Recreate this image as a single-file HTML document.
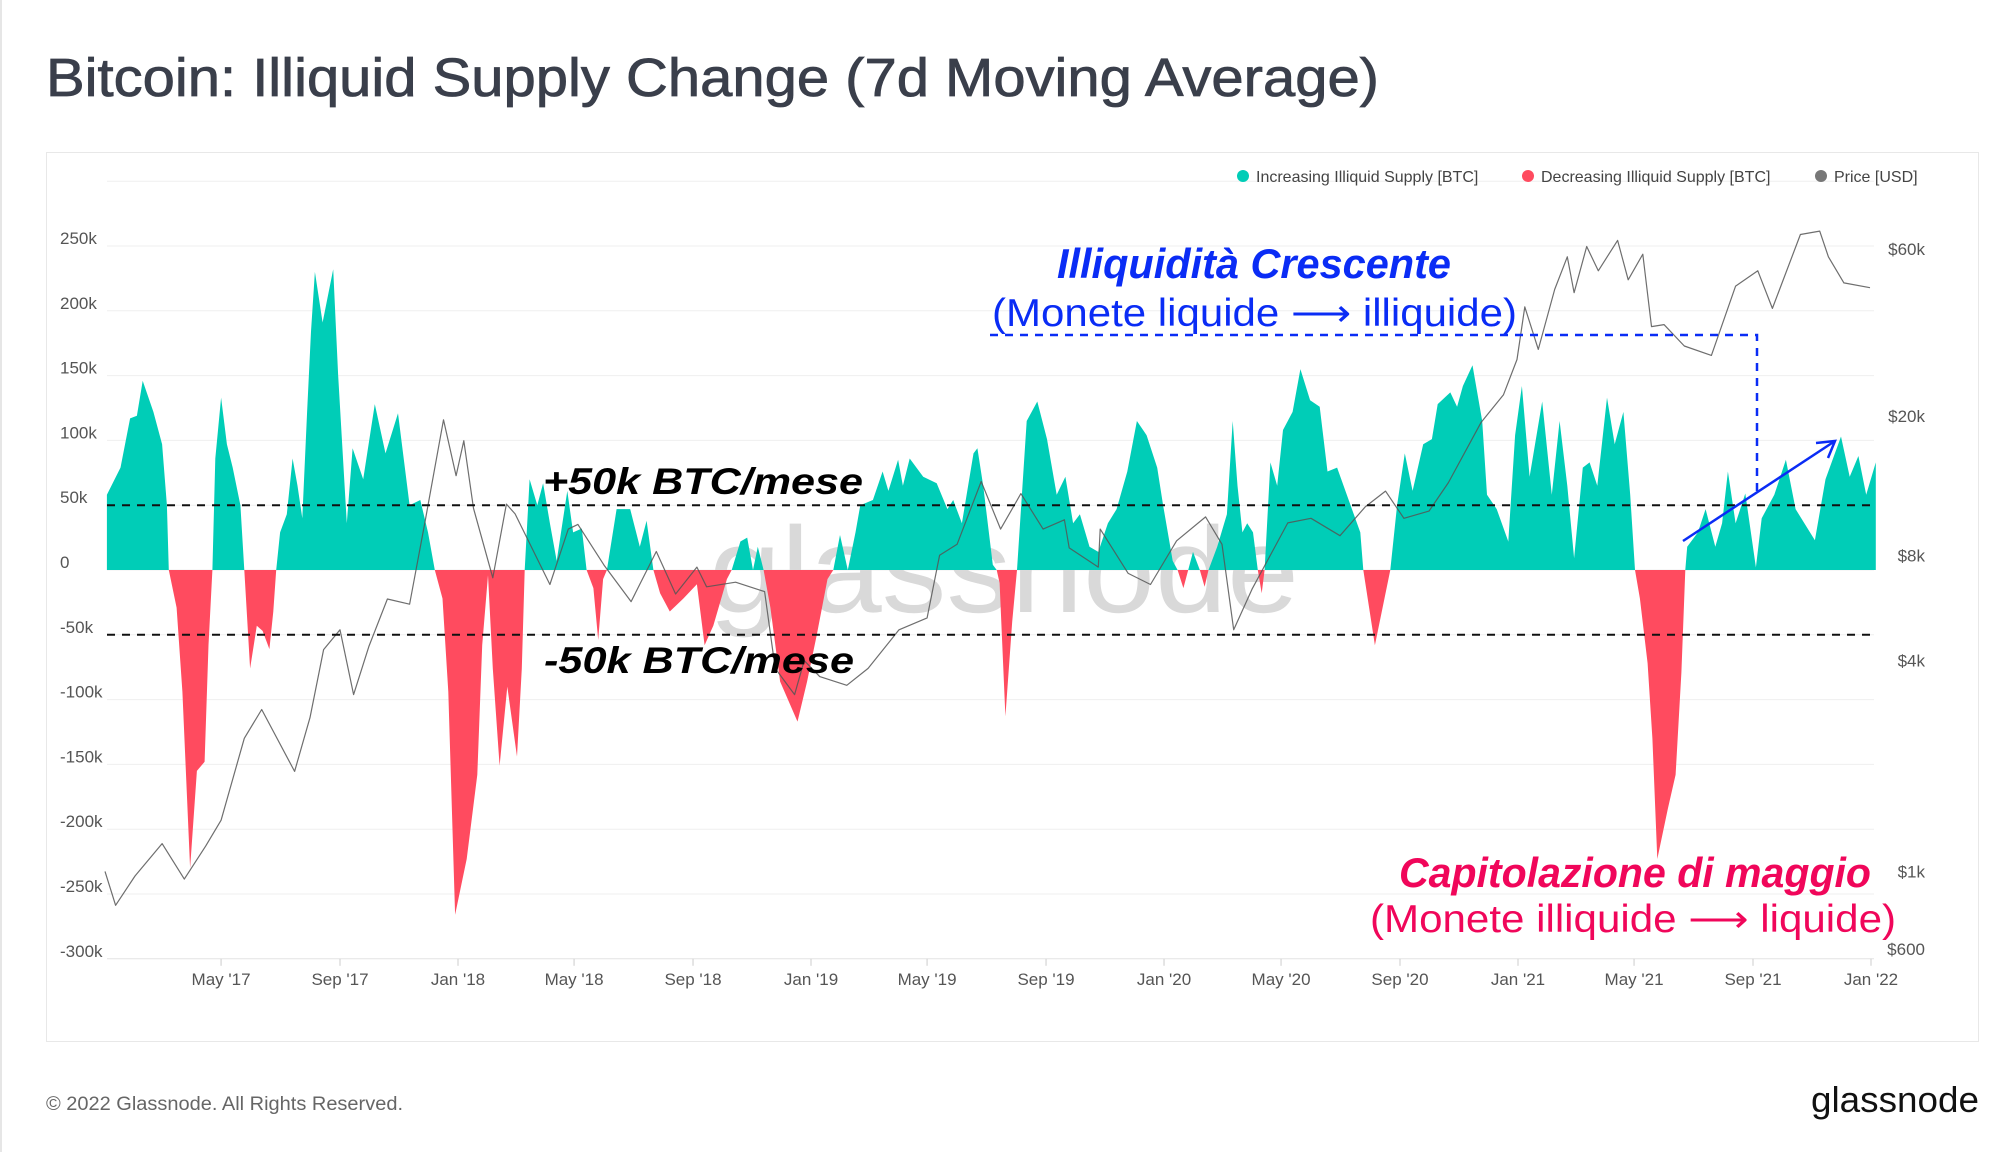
<!DOCTYPE html>
<html><head><meta charset="utf-8"><style>
html,body{margin:0;padding:0;background:#fff;}
svg{display:block;font-family:"Liberation Sans",sans-serif;}
</style></head><body>
<svg id="chart" width="2000" height="1152" viewBox="0 0 2000 1152" xmlns="http://www.w3.org/2000/svg">
<line x1="1" y1="0" x2="1" y2="1152" stroke="#e6e6e6" stroke-width="2"/>
<text x="46" y="96" font-size="54" fill="#3a3f4b" stroke="#3a3f4b" stroke-width="0.8" textLength="1333" lengthAdjust="spacingAndGlyphs">Bitcoin: Illiquid Supply Change (7d Moving Average)</text>
<rect x="46.5" y="152.5" width="1932" height="889" fill="none" stroke="#e8e8e8"/>
<g id="grid"></g>
<text x="709" y="612" font-size="122" fill="#d9d9d9" textLength="590" lengthAdjust="spacingAndGlyphs">glassnode</text>
<g id="areas"></g>
<g id="price"></g>
<g id="axes"></g>
<g id="legend">
 <circle cx="1243" cy="176" r="6" fill="#00cdb7"/>
 <text x="1256" y="182" font-size="16" fill="#444">Increasing Illiquid Supply [BTC]</text>
 <circle cx="1528" cy="176" r="6" fill="#ff4b5f"/>
 <text x="1541" y="182" font-size="16" fill="#444">Decreasing Illiquid Supply [BTC]</text>
 <circle cx="1821" cy="176" r="6" fill="#777"/>
 <text x="1834" y="182" font-size="16" fill="#444">Price [USD]</text>
</g>
<g id="annotations">
 <text x="543" y="494" font-size="37" font-weight="bold" font-style="italic" fill="#000" textLength="320" lengthAdjust="spacingAndGlyphs">+50k BTC/mese</text>
 <text x="544" y="673" font-size="37" font-weight="bold" font-style="italic" fill="#000" textLength="310" lengthAdjust="spacingAndGlyphs">-50k BTC/mese</text>
 <text x="1057" y="278" font-size="42" font-weight="bold" font-style="italic" fill="#0a2cf5" textLength="394" lengthAdjust="spacingAndGlyphs">Illiquidità Crescente</text>
 <text x="992" y="326" font-size="39" fill="#0a2cf5" textLength="525" lengthAdjust="spacingAndGlyphs">(Monete liquide ⟶ illiquide)</text>
 <polyline points="990,335 1757,335 1757,494" fill="none" stroke="#0a2cf5" stroke-width="2.5" stroke-dasharray="8,7"/>
 <line x1="1683" y1="541" x2="1835" y2="441" stroke="#0a2cf5" stroke-width="2.5"/>
 <polyline points="1816,443 1835,441 1828,458" fill="none" stroke="#0a2cf5" stroke-width="2.5"/>
 <text x="1399" y="887" font-size="42" font-weight="bold" font-style="italic" fill="#f0065a" textLength="472" lengthAdjust="spacingAndGlyphs">Capitolazione di maggio</text>
 <text x="1370" y="932" font-size="39" fill="#f0065a" textLength="526" lengthAdjust="spacingAndGlyphs">(Monete illiquide ⟶ liquide)</text>
</g>
<text x="46" y="1110" font-size="19" fill="#666" textLength="357" lengthAdjust="spacingAndGlyphs">© 2022 Glassnode. All Rights Reserved.</text>
<text x="1811" y="1112" font-size="36" fill="#111" textLength="168" lengthAdjust="spacingAndGlyphs">glassnode</text>
</svg>
<script>
const supplyDays = [2,16,26,33,39,50,59,64,66,74,80,88,95,103,107,111,114,120,126,132,140,144,150,157,163,170,174,177,181,188,194,199,204,209,213,217,225,236,241,250,256,267,279,290,303,315,326,334,341,349,355,362,374,385,390,396,401,408,416,426,431,434,439,447,453,460,467,478,484,493,498,505,510,515,519,529,543,553,560,567,574,584,598,612,620,629,643,648,657,664,670,675,681,688,698,716,726,736,747,753,760,768,776,781,794,804,810,820,825,832,846,860,871,877,886,898,902,908,918,922,925,931,938,943,953,964,974,984,993,1001,1008,1018,1027,1037,1046,1057,1067,1077,1088,1094,1104,1109,1115,1120,1125,1132,1137,1141,1150,1160,1166,1171,1176,1181,1187,1192,1196,1199,1205,1212,1218,1228,1236,1246,1256,1264,1274,1284,1298,1301,1313,1329,1336,1344,1352,1363,1372,1378,1391,1398,1404,1414,1424,1429,1439,1451,1458,1465,1473,1486,1496,1504,1512,1519,1528,1535,1543,1553,1561,1570,1577,1582,1587,1595,1600,1605,1616,1624,1630,1634,1636,1647,1655,1665,1672,1678,1686,1696,1707,1713,1726,1738,1748,1768,1779,1795,1804,1813,1821,1831];
const supplyValues = [58,79,117,119,146,122,97,50,0,-29,-94,-230,-155,-148,-58,0,86,133,97,79,50,0,-76,-43,-47,-61,-32,0,29,43,86,65,40,122,184,230,191,232,151,36,94,70,128,90,121,50,54,29,0,-22,-94,-266,-223,-158,-58,-4,-76,-151,-90,-144,-76,0,70,50,67,36,7,61,29,32,0,-14,-54,-7,0,47,47,18,38,0,-18,-32,-22,-11,-58,-43,-7,0,22,25,0,18,0,-29,-86,-117,-86,-50,-7,0,27,0,29,50,54,76,61,85,65,86,72,67,47,54,36,90,94,65,4,0,-10,-113,-40,0,115,130,101,58,72,36,43,18,14,36,47,76,115,104,79,50,7,0,-14,0,14,0,-13,0,18,43,115,65,29,36,29,0,-18,0,83,65,108,122,155,131,126,76,79,58,29,0,-58,0,50,90,61,97,101,128,137,126,142,158,115,58,47,22,104,142,72,130,58,115,65,9,79,83,65,133,97,122,58,0,-22,-72,-130,-223,-184,-158,-79,0,18,29,47,18,36,76,36,59,2,40,58,85,47,23,70,103,72,88,58,83];
const priceDates = ["2017-01-01","2017-01-12","2017-02-01","2017-03-01","2017-03-24","2017-04-15","2017-05-01","2017-05-25","2017-06-12","2017-07-16","2017-08-01","2017-08-15","2017-09-01","2017-09-15","2017-10-01","2017-10-20","2017-11-12","2017-11-28","2017-12-17","2017-12-30","2018-01-07","2018-01-17","2018-02-06","2018-02-20","2018-03-01","2018-04-06","2018-04-25","2018-05-05","2018-06-01","2018-06-29","2018-07-25","2018-08-14","2018-09-05","2018-09-15","2018-10-15","2018-11-14","2018-11-25","2018-12-15","2018-12-25","2019-01-10","2019-02-07","2019-03-01","2019-04-02","2019-05-01","2019-05-14","2019-06-01","2019-06-26","2019-07-16","2019-08-06","2019-08-29","2019-09-20","2019-09-25","2019-10-25","2019-10-27","2019-11-25","2019-12-18","2020-01-14","2020-02-13","2020-03-01","2020-03-13","2020-04-01","2020-05-08","2020-06-01","2020-07-01","2020-07-27","2020-08-17","2020-09-05","2020-10-01","2020-10-21","2020-11-24","2020-12-17","2020-12-31","2021-01-08","2021-01-22","2021-02-08","2021-02-21","2021-02-28","2021-03-13","2021-03-25","2021-04-14","2021-04-25","2021-05-10","2021-05-19","2021-06-01","2021-06-22","2021-07-20","2021-08-14","2021-09-06","2021-09-21","2021-10-20","2021-11-09","2021-11-18","2021-12-04","2021-12-31"];
const priceValues = [1000,800,970,1200,950,1180,1400,2400,2900,1930,2750,4300,4900,3200,4400,6000,5800,10000,19500,13500,17000,10900,6900,11200,10500,6600,9500,9800,7500,5900,8200,6200,7400,6500,6700,6300,3800,3200,4000,3600,3400,3800,4900,5300,8000,8600,13000,9500,12000,9500,10100,8400,7400,9500,7100,6600,8800,10300,8600,4900,6400,9900,10200,9100,11000,12200,10200,10700,12900,19200,23000,29000,41000,31000,46000,57000,45000,61000,52000,63500,49000,58000,36000,36500,31700,29800,47000,52000,40600,66000,67500,57000,48000,46500];
const yTicks = [250,200,150,100,50,0,-50,-100,-150,-200,-250,-300];
const yTickLabels = ["250k","200k","150k","100k","50k","0","-50k","-100k","-150k","-200k","-250k","-300k"];
const priceTicks = [60000,20000,8000,4000,1000,600];
const priceTickLabels = ["$60k","$20k","$8k","$4k","$1k","$600"];
const xTickDates = ["2017-05-01","2017-09-01","2018-01-01","2018-05-01","2018-09-01","2019-01-01","2019-05-01","2019-09-01","2020-01-01","2020-05-01","2020-09-01","2021-01-01","2021-05-01","2021-09-01","2022-01-01"];
const xTickLabels = ["May '17","Sep '17","Jan '18","May '18","Sep '18","Jan '19","May '19","Sep '19","Jan '20","May '20","Sep '20","Jan '21","May '21","Sep '21","Jan '22"];

const NS="http://www.w3.org/2000/svg";
const X0=105, PXD=1766/1826, PL=107, PR=1874;
const T0=Date.UTC(2017,0,1);
function dayOf(s){const p=s.split('-');return (Date.UTC(+p[0],+p[1]-1,+p[2])-T0)/86400000;}
function xDay(d){return X0+d*PXD;}
function yVal(k){return 570-k*1.296;}
function yPrice(p){return 249+(Math.log10(60000)-Math.log10(p))*350;}
function mk(tag,attrs,parent){const e=document.createElementNS(NS,tag);for(const k in attrs)e.setAttribute(k,attrs[k]);parent.appendChild(e);return e;}

const grid=document.getElementById('grid');
const gl=mk('line',{x1:PL,x2:PR,y1:yVal(300),y2:yVal(300),stroke:'#efefef'},grid);


yTicks.forEach((t,i)=>{
  const l=mk('line',{x1:PL,x2:PR,y1:yVal(t),y2:yVal(t),stroke:t===-300?'#e3e3e3':'#efefef'},grid);
  
  
  const tx=mk('text',{x:60,y:yVal(t)-2,'font-size':17,fill:'#555'},grid);
  tx.textContent=yTickLabels[i];
  
  
});
priceTicks.forEach((p,i)=>{
  const tx=mk('text',{x:1925,y:yPrice(p)+6,'font-size':17,fill:'#555','text-anchor':'end'},grid);
  tx.textContent=priceTickLabels[i];
  
  
});

const areas=document.getElementById('areas');
let pts=[[xDay(supplyDays[0]),yVal(0)]];
supplyDays.forEach((d,i)=>pts.push([xDay(d),yVal(supplyValues[i])]));
pts.push([xDay(supplyDays[supplyDays.length-1]),yVal(0)]);
const ptStr=pts.map(p=>p[0].toFixed(1)+','+p[1].toFixed(1)).join(' ');
const defs=mk('defs',{},areas);
mk('rect',{x:0,y:0,width:2000,height:yVal(0)},mk('clipPath',{id:'cpPos'},defs));
mk('rect',{x:0,y:yVal(0),width:2000,height:600},mk('clipPath',{id:'cpNeg'},defs));
const pos=mk('polygon',{points:ptStr,fill:'#00cdb7','clip-path':'url(#cpPos)'},areas);


const neg=mk('polygon',{points:ptStr,fill:'#ff4b5f','clip-path':'url(#cpNeg)'},areas);



const pr=document.getElementById('price');
const pp=priceDates.map((d,i)=>xDay(dayOf(d)).toFixed(1)+','+yPrice(priceValues[i]).toFixed(1)).join(' ');
const pl=mk('polyline',{points:pp,fill:'none',stroke:'#555','stroke-width':1.2,'stroke-linejoin':'round','stroke-opacity':0.85},pr);



const axes=document.getElementById('axes');
[50,-50].forEach(v=>{
  const l=mk('line',{x1:PL,x2:PR,y1:yVal(v),y2:yVal(v),stroke:'#111','stroke-width':2,'stroke-dasharray':'8,7'},axes);
  
  
});
xTickDates.forEach((d,i)=>{
  const x=xDay(dayOf(d));
  const t=mk('line',{x1:x,x2:x,y1:yVal(-300),y2:yVal(-300)+7,stroke:'#ccc'},axes);
  
  
  const tx=mk('text',{x:x,y:985,'font-size':17,fill:'#555','text-anchor':'middle'},axes);
  tx.textContent=xTickLabels[i];
  
  
});
</script>
</body></html>
